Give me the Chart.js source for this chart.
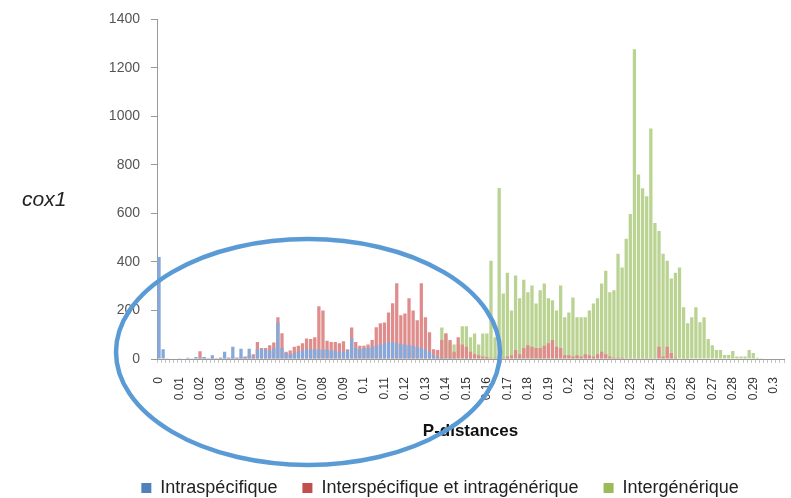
<!DOCTYPE html>
<html>
<head>
<meta charset="utf-8">
<script src="https://cdn.jsdelivr.net/npm/chart.js@4.4.1/dist/chart.umd.min.js"></script>
<style>
  html, body { margin: 0; padding: 0; background: #ffffff; }
  #wrap { width: 791px; height: 498px; position: relative; }
</style>
</head>
<body>
<div id="wrap"><canvas id="chart" width="791" height="498"></canvas></div>
<script>
// Distance classes: 0 to 0.304 in steps of 0.002
const distances = Array.from({ length: 153 }, (_, i) => +(i * 0.002).toFixed(3));

// Axis labels shown every fifth class
const tickLabels = ['0', '0.01', '0.02', '0.03', '0.04', '0.05', '0.06', '0.07', '0.08', '0.09',
  '0.1', '0.11', '0.12', '0.13', '0.14', '0.15', '0.16', '0.17', '0.18', '0.19',
  '0.2', '0.21', '0.22', '0.23', '0.24', '0.25', '0.26', '0.27', '0.28', '0.29', '0.3'];

const seriesNames = ['Intraspécifique', 'Interspécifique et intragénérique', 'Intergénérique'];

// Number of pairwise comparisons per distance class
const intraspecific = [
  420, 40, 3, 2, 2, 3, 2, 5, 3, 8,
  5, 8, 3, 15, 3, 5, 30, 5, 50, 5,
  42, 8, 42, 10, 40, 42, 38, 35, 45, 150,
  45, 25, 20, 25, 30, 35, 40, 40, 40, 40,
  38, 40, 35, 35, 30, 30, 35, 85, 45, 40,
  45, 45, 50, 55, 60, 65, 70, 70, 65, 62,
  60, 57, 55, 50, 45, 40, 30, 15, 8, 5,
  3, 5, 3, 2, 2, 1, 1, 0, 0, 0,
  0, 0, 0, 0, 0, 0, 0, 0, 0, 0,
  0, 0, 0, 0, 0, 0, 0, 0, 0, 0,
  0, 0, 0, 0, 0, 0, 0, 0, 0, 0,
  0, 0, 0, 0, 0, 0, 0, 0, 0, 0,
  0, 0, 0, 0, 0, 0, 0, 0, 0, 0,
  0, 0, 0, 0, 0, 0, 0, 0, 0, 0,
  0, 0, 0, 0, 0, 0, 0, 0, 0, 0,
  0, 0, 0
];

const interspecific = [
  0, 0, 0, 0, 0, 2, 0, 0, 0, 3,
  32, 8, 3, 5, 3, 5, 8, 5, 8, 5,
  8, 10, 15, 20, 70, 45, 45, 57, 68, 172,
  106, 30, 35, 50, 55, 65, 85, 82, 90, 217,
  200, 75, 70, 70, 65, 73, 40, 130, 70, 55,
  55, 60, 78, 131, 147, 150, 192, 230, 312, 180,
  188, 250, 200, 160, 312, 172, 110, 40, 37, 78,
  106, 78, 30, 90, 60, 50, 30, 20, 15, 10,
  8, 5, 5, 5, 5, 10, 15, 37, 20, 45,
  57, 50, 45, 45, 55, 65, 78, 50, 45, 15,
  15, 10, 15, 10, 20, 15, 10, 20, 30, 20,
  10, 5, 5, 5, 3, 3, 3, 3, 3, 3,
  3, 3, 50, 10, 50, 25, 5, 2, 1, 1,
  0, 0, 0, 0, 0, 0, 0, 0, 0, 0,
  0, 0, 0, 0, 0, 0, 0, 0, 0, 0,
  0, 0, 0
];

const intergeneric = [
  0, 0, 0, 0, 0, 0, 0, 0, 0, 0,
  0, 0, 0, 0, 0, 0, 0, 0, 0, 0,
  0, 0, 0, 0, 0, 0, 0, 0, 0, 0,
  0, 0, 0, 0, 0, 0, 0, 0, 0, 0,
  0, 0, 0, 0, 0, 0, 0, 0, 0, 0,
  0, 0, 0, 0, 0, 0, 0, 0, 0, 0,
  0, 0, 0, 0, 0, 0, 0, 0, 0, 130,
  100, 70, 60, 60, 135, 135, 90, 105, 60, 105,
  105, 405, 90, 705, 270, 356, 200, 344, 250, 327,
  275, 303, 229, 283, 311, 250, 242, 200, 303, 172,
  192, 254, 172, 172, 172, 200, 229, 250, 311, 364,
  275, 283, 434, 377, 496, 598, 1277, 761, 704, 671,
  950, 561, 528, 434, 405, 332, 356, 377, 213, 147,
  172, 213, 151, 172, 82, 57, 37, 37, 16, 16,
  33, 10, 10, 10, 37, 25, 5, 3, 2, 2,
  2, 2, 2
];

const barColours = ['#86A9D9', '#DF8D8C', '#BAD392'];
const legendColours = ['#4F81BD', '#C0504D', '#9BBB59'];

const fontFamily = '"Liberation Sans", Arial, sans-serif';

// Y-axis caption written horizontally beside the value axis
const axisCaption = {
  id: 'axisCaption',
  afterDraw(chart) {
    const c = chart.ctx;
    c.save();
    c.font = 'italic 21px ' + fontFamily;
    c.fillStyle = '#222222';
    c.textAlign = 'left';
    c.textBaseline = 'middle';
    c.fillText('cox1', 22, 200);
    c.restore();
  }
};

// Hand-drawn style highlight around the low-distance classes
const highlightRing = {
  id: 'highlightRing',
  afterDraw(chart) {
    const c = chart.ctx;
    c.save();
    c.beginPath();
    c.ellipse(308, 352, 192, 113, 0, 0, Math.PI * 2);
    c.lineWidth = 4.5;
    c.strokeStyle = '#5B9BD5';
    c.stroke();
    c.restore();
  }
};

// Nudge the legend row to the right and slightly lower
const legendPlacement = {
  id: 'legendPlacement',
  afterLayout(chart) {
    const l = chart.legend;
    if (!l) return;
    l.left += 48; l.right += 48;
    l.top += 9; l.bottom += 9;
  }
};

const makeSet = (k, values) => ({
  label: seriesNames[k],
  data: values,
  backgroundColor: barColours[k],
  borderWidth: 0,
  grouped: false,
  order: k + 1,
  barPercentage: 0.8,
  categoryPercentage: 1.0
});

new Chart(document.getElementById('chart'), {
  type: 'bar',
  data: {
    labels: distances,
    datasets: [
      makeSet(0, intraspecific),
      makeSet(1, interspecific),
      makeSet(2, intergeneric)
    ]
  },
  options: {
    responsive: false,
    animation: false,
    layout: { padding: { top: 17, right: 7, left: 0, bottom: 0 } },
    plugins: {
      tooltip: { enabled: false },
      legend: {
        position: 'bottom',
        labels: {
          boxWidth: 10,
          boxHeight: 10,
          padding: 25,
          color: '#222222',
          font: { family: fontFamily, size: 18 },
          generateLabels(chart) {
            const items = Chart.defaults.plugins.legend.labels.generateLabels(chart);
            items.forEach(it => {
              it.fillStyle = legendColours[it.datasetIndex];
              it.strokeStyle = legendColours[it.datasetIndex];
              it.lineWidth = 0;
            });
            return items;
          }
        }
      }
    },
    scales: {
      x: {
        grid: { display: true, drawOnChartArea: false, offset: true, tickLength: 4, color: '#c4c4c4' },
        border: { color: '#9a9a9a', width: 1 },
        ticks: {
          autoSkip: false,
          minRotation: 90,
          maxRotation: 90,
          padding: 14,
          color: '#333333',
          font: { family: fontFamily, size: 12 },
          callback: (v, i) => (i % 5 === 0 ? tickLabels[i / 5] : '')
        },
        title: {
          display: true,
          text: 'P-distances',
          color: '#111111',
          font: { family: fontFamily, size: 17, weight: 'bold' },
          padding: { top: 0, bottom: 3 }
        },
        afterFit(scale) {
          scale.height = 86;
          scale.paddingLeft = 0;
          scale.paddingRight = 0;
        }
      },
      y: {
        min: 0,
        max: 1400,
        grid: { display: true, drawOnChartArea: false, tickLength: 6, color: '#9a9a9a' },
        border: { color: '#9a9a9a', width: 1 },
        ticks: {
          stepSize: 200,
          padding: 11,
          color: '#555555',
          font: { family: fontFamily, size: 14 },
          callback: (v) => String(v)
        },
        afterFit(scale) { scale.width = 157; }
      }
    }
  },
  plugins: [axisCaption, highlightRing, legendPlacement]
});
</script>
</body>
</html>
